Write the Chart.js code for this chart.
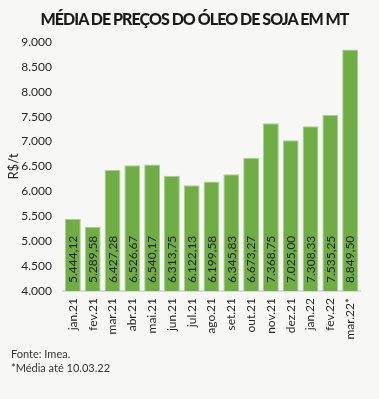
<!DOCTYPE html>
<html>
<head>
<meta charset="utf-8">
<script src="https://cdn.jsdelivr.net/npm/chart.js@4"></script>
<style>
  html, body { margin:0; padding:0; background:#f7f7f5; }
  #wrap { position:relative; width:379px; height:399px; overflow:hidden; }
  canvas { position:absolute; left:0; top:0; }
  #title { position:absolute; left:0; width:379px; top:9px; text-align:center; font-family:Lato, sans-serif; font-weight:900; font-size:16px; color:#1a1a1a; letter-spacing:-0.95px; white-space:nowrap; padding-left:10px; box-sizing:border-box; }
  .foot { position:absolute; left:11px; font-family:Lato, sans-serif; font-size:11px; color:#333; white-space:nowrap; }
</style>
</head>
<body>
<div id="wrap">
  <canvas id="c" width="379" height="399"></canvas>
  <div id="title">MÉDIA DE PREÇOS DO ÓLEO DE SOJA EM MT</div>
  <div class="foot" style="top:347px">Fonte: Imea.</div>
  <div class="foot" style="top:361px">*Média até 10.03.22</div>
</div>
<script>
const categories = ['jan.21','fev.21','mar.21','abr.21','mai.21','jun.21','jul.21','ago.21','set.21','out.21','nov.21','dez.21','jan.22','fev.22','mar.22*'];
const prices = [5444.12, 5289.58, 6427.28, 6526.67, 6540.17, 6313.75, 6122.13, 6199.58, 6345.83, 6673.27, 7368.75, 7025.00, 7308.33, 7535.25, 8849.50];
const yMin = 4000;
const yMax = 9000;
const yStep = 500;
const yTitle = 'R$/t';

function fmtBR(v, dec) {
  const parts = v.toFixed(dec).split('.');
  const intPart = parts[0].replace(/\B(?=(\d{3})+(?!\d))/g, '.');
  return dec ? intPart + ',' + parts[1] : intPart;
}

const barLabels = {
  id: 'barLabels',
  afterDatasetsDraw(chart) {
    const ctx = chart.ctx;
    const meta = chart.getDatasetMeta(0);
    ctx.save();
    ctx.font = '12px Lato';
    ctx.fillStyle = '#1f1f1f';
    ctx.textAlign = 'left';
    ctx.textBaseline = 'middle';
    meta.data.forEach((bar, i) => {
      ctx.save();
      ctx.translate(bar.x + 0.5, chart.chartArea.bottom - 8);
      ctx.rotate(-Math.PI / 2);
      ctx.fillText(fmtBR(prices[i], 2), 0, 0);
      ctx.restore();
    });
    ctx.restore();
  }
};

new Chart(document.getElementById('c'), {
  type: 'bar',
  data: {
    labels: categories,
    datasets: [{
      data: prices,
      backgroundColor: '#70ad47',
      borderColor: '#a9d08e',
      borderWidth: 1,
      categoryPercentage: 1,
      barPercentage: 0.8
    }]
  },
  options: {
    responsive: false,
    animation: false,
    layout: { padding: { top: 42, right: 19, bottom: 0, left: 0 } },
    plugins: { legend: { display: false }, tooltip: { enabled: false } },
    scales: {
      x: {
        grid: { display: false, drawTicks: false },
        border: { display: true, color: '#d9d9d9', width: 2 },
        ticks: { maxRotation: 90, minRotation: 90, padding: 7, color: '#262626', font: { family: 'Lato', size: 12 } },
        afterFit(s) { s.height = 108; }
      },
      y: {
        min: yMin, max: yMax,
        grid: { display: false, drawTicks: false },
        border: { display: false },
        ticks: { stepSize: yStep, padding: 11, color: '#262626', font: { family: 'Lato', size: 12 }, callback: v => fmtBR(v, 0) },
        title: { display: true, text: yTitle, color: '#262626', font: { family: 'Lato', size: 13 }, padding: { top: 6, bottom: 0 } },
        afterFit(s) { s.width = 63; }
      }
    }
  },
  plugins: [barLabels]
});
</script>
</body>
</html>
